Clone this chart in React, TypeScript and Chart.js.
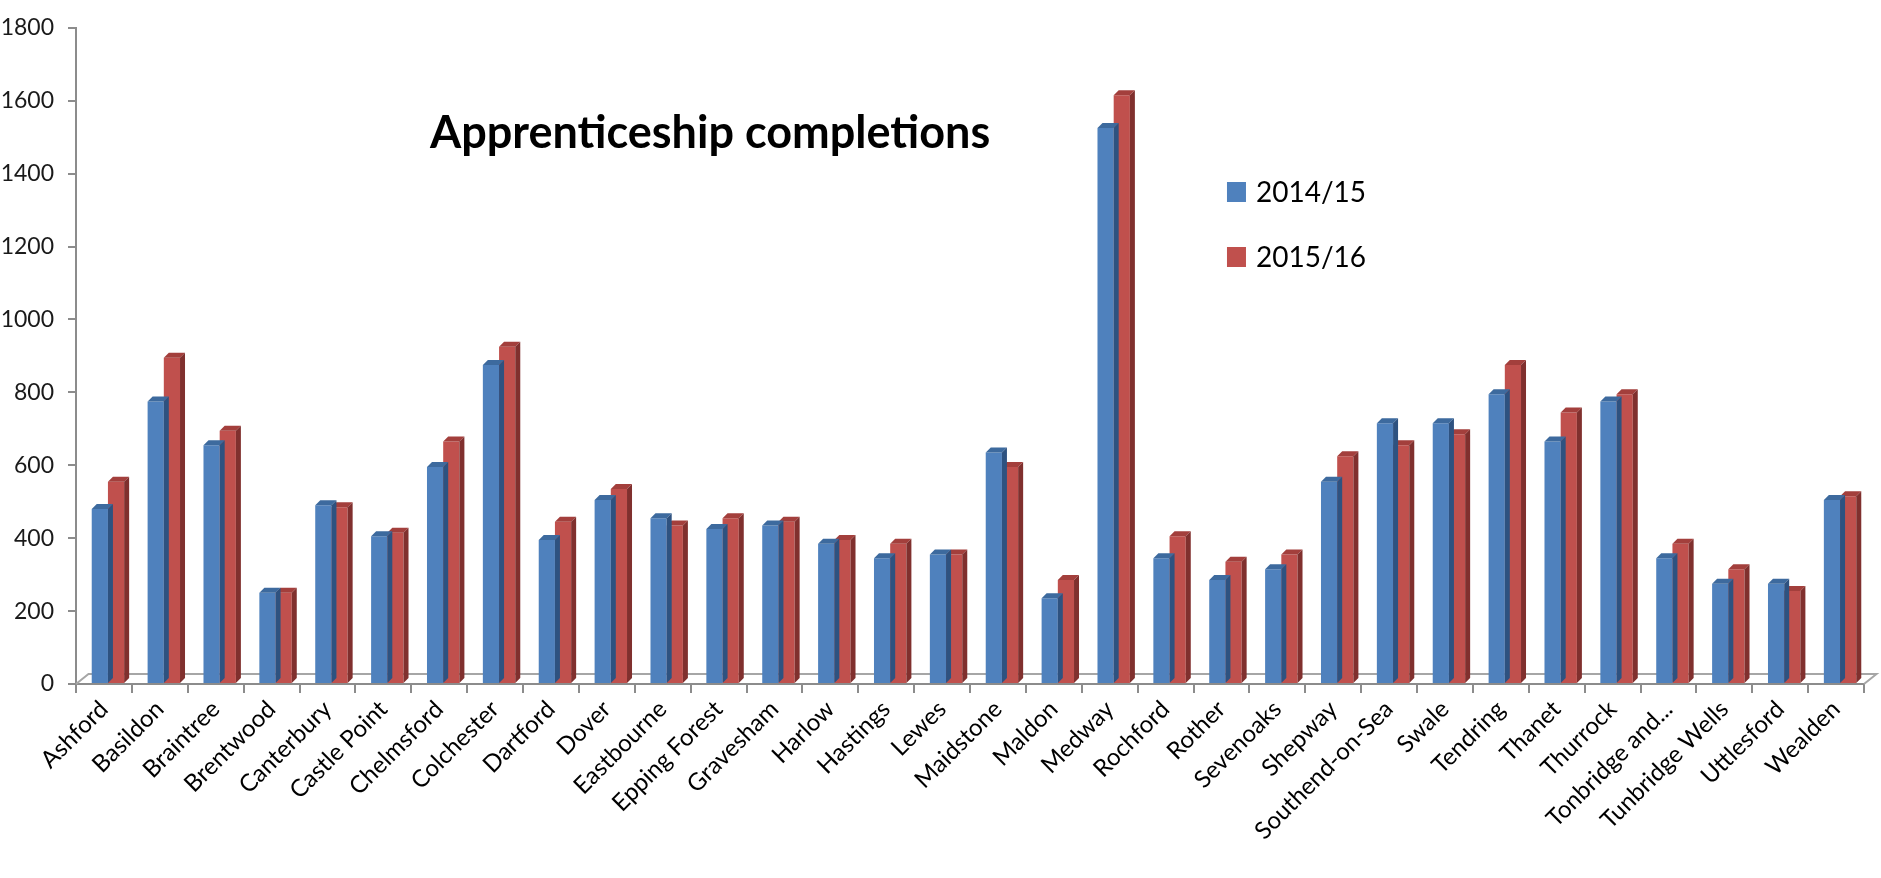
import { useEffect, useRef } from "react";
import { Chart, registerables } from "chart.js";

Chart.register(...registerables);

const categories = [
  "Ashford", "Basildon", "Braintree", "Brentwood", "Canterbury", "Castle Point",
  "Chelmsford", "Colchester", "Dartford", "Dover", "Eastbourne", "Epping Forest",
  "Gravesham", "Harlow", "Hastings", "Lewes", "Maidstone", "Maldon", "Medway",
  "Rochford", "Rother", "Sevenoaks", "Shepway", "Southend-on-Sea", "Swale",
  "Tendring", "Thanet", "Thurrock", "Tonbridge and...", "Tunbridge Wells",
  "Uttlesford", "Wealden",
];

const values2014 = [
  480, 775, 655, 250, 490, 405, 595, 875, 395, 505, 455, 425, 435, 385, 345, 355,
  635, 235, 1525, 345, 285, 315, 555, 715, 715, 795, 665, 775, 345, 275, 275, 505,
];

const values2015 = [
  555, 895, 695, 250, 485, 415, 665, 925, 445, 535, 435, 455, 445, 395, 385, 355,
  595, 285, 1615, 405, 335, 355, 625, 655, 685, 875, 745, 795, 385, 315, 255, 515,
];

const seriesLabels = ["2014/15", "2015/16"];
const chartTitle = "Apprenticeship completions";
const yMin = 0;
const yMax = 1800;
const yStep = 200;

const FONT = "Lato, 'Noto Sans', sans-serif";
const FRONT = ["#4F81BD", "#C0504D"];
const TOP = ["#3D6A9E", "#A33F3C"];
const SIDE = ["#2E5280", "#80302E"];
const DX = 5;
const DY = 5;
const SHIFT = 4;

const bar3d = {
  id: "bar3d",
  beforeDatasetsDraw(chart: any) {
    const { ctx, chartArea } = chart;
    const y0 = chart.scales.y.getPixelForValue(0);
    ctx.save();
    ctx.strokeStyle = "#A6A6A6";
    ctx.lineWidth = 2;
    ctx.beginPath();
    ctx.moveTo(chartArea.left, y0);
    ctx.lineTo(chartArea.left + DX * 2.5, y0 - DY * 2);
    ctx.lineTo(chartArea.right + DX * 2.5, y0 - DY * 2);
    ctx.lineTo(chartArea.right, y0);
    ctx.stroke();
    ctx.restore();
    ctx.save();
    ctx.translate(SHIFT, 0);
  },
  afterDatasetDraw(chart: any, args: any) {
    const { ctx } = chart;
    const i = args.index;
    const meta = chart.getDatasetMeta(i);
    ctx.save();
    meta.data.forEach((bar: any) => {
      const { x, y, base, width } = bar.getProps(["x", "y", "base", "width"], true);
      const l = x - width / 2;
      const r = x + width / 2;
      ctx.fillStyle = TOP[i];
      ctx.beginPath();
      ctx.moveTo(l, y);
      ctx.lineTo(r, y);
      ctx.lineTo(r + DX, y - DY);
      ctx.lineTo(l + DX, y - DY);
      ctx.closePath();
      ctx.fill();
      ctx.fillStyle = SIDE[i];
      ctx.beginPath();
      ctx.moveTo(r, y);
      ctx.lineTo(r + DX, y - DY);
      ctx.lineTo(r + DX, base - DY);
      ctx.lineTo(r, base);
      ctx.closePath();
      ctx.fill();
    });
    ctx.restore();
  },
  afterDatasetsDraw(chart: any) {
    chart.ctx.restore();
  },
  afterDraw(chart: any) {
    const { ctx, width } = chart;
    ctx.save();
    // title
    ctx.fillStyle = "#000";
    ctx.font = `bold 45px ${FONT}`;
    ctx.textBaseline = "alphabetic";
    ctx.textAlign = "left";
    ctx.fillText(chartTitle, width * 0.2286, 148);
    // legend
    ctx.font = `28px ${FONT}`;
    ctx.textBaseline = "middle";
    seriesLabels.forEach((lab, k) => {
      const top = 182 + k * 65;
      ctx.fillStyle = FRONT[k];
      ctx.fillRect(width * 0.6523, top, 19, 20);
      ctx.fillStyle = "#000";
      ctx.fillText(lab, width * 0.6523 + 29, top + 11);
    });
    ctx.restore();
  },
};

export default function App() {
  const ref = useRef<HTMLCanvasElement>(null);
  useEffect(() => {
    if (!ref.current) return;
    const chart = new Chart(ref.current, {
      type: "bar",
      data: {
        labels: categories,
        datasets: [
          {
            label: seriesLabels[0],
            data: values2014,
            backgroundColor: FRONT[0],
            categoryPercentage: 0.58,
            barPercentage: 1,
          },
          {
            label: seriesLabels[1],
            data: values2015,
            backgroundColor: FRONT[1],
            categoryPercentage: 0.58,
            barPercentage: 1,
          },
        ],
      },
      options: {
        animation: false,
        responsive: true,
        maintainAspectRatio: false,
        layout: { padding: { top: 13, right: 17, left: 0, bottom: 0 } },
        plugins: {
          legend: { display: false },
          title: { display: false },
          tooltip: { enabled: false },
        },
        scales: {
          x: {
            offset: true,
            afterFit(axis: any) {
              axis.height = 194;
            },
            grid: {
              display: true,
              drawOnChartArea: false,
              drawTicks: true,
              tickLength: 9,
              color: "#8C8C8C",
              lineWidth: 2,
              offset: true,
            },
            border: { display: true, color: "#8C8C8C", width: 2 },
            ticks: {
              autoSkip: false,
              maxRotation: 45,
              minRotation: 45,
              padding: 2,
              color: "#000",
              font: { family: FONT, size: 24 },
            },
          },
          y: {
            min: yMin,
            max: yMax,
            afterFit(axis: any) {
              axis.width = 76;
            },
            grid: {
              display: true,
              drawOnChartArea: false,
              drawTicks: true,
              tickLength: 8,
              color: "#8C8C8C",
              lineWidth: 2,
            },
            border: { display: true, color: "#8C8C8C", width: 2 },
            ticks: {
              stepSize: yStep,
              padding: 14,
              color: "#1A1A1A",
              font: { family: FONT, size: 23 },
              callback: (v: any) => String(v),
            },
          },
        },
      },
      plugins: [bar3d],
    });
    return () => chart.destroy();
  }, []);
  return (
    <div style={{ position: "fixed", left: 0, top: 0, width: 1881, height: 878, background: "#fff" }}>
      <canvas ref={ref} />
    </div>
  );
}
